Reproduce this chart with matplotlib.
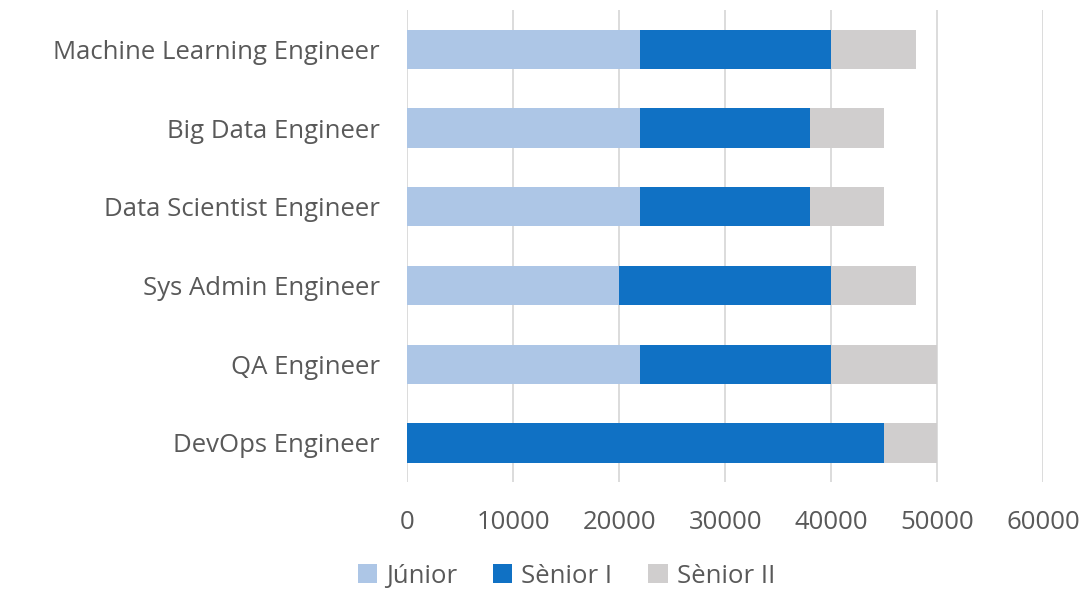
import matplotlib
matplotlib.use('Agg')
import matplotlib.pyplot as plt
import numpy as np

plt.rcParams['font.family'] = ['Open Sans', 'DejaVu Sans']

roles = ['Machine Learning Engineer', 'Big Data Engineer', 'Data Scientist Engineer',
         'Sys Admin Engineer', 'QA Engineer', 'DevOps Engineer']
junior = [22000, 22000, 22000, 20000, 22000, 0]
senior1 = [18000, 16000, 16000, 20000, 18000, 45000]
senior2 = [8000, 7000, 7000, 8000, 10000, 5000]
series_names = ['Júnior', 'Sènior I', 'Sènior II']
colors = ['#adc6e6', '#1071c4', '#d0cece']
xticks = [0, 10000, 20000, 30000, 40000, 50000, 60000]

TEXT = '#595959'
FS = 18.5

fig = plt.figure(figsize=(10.89, 5.91), dpi=100)
ax = fig.add_axes([0.374, 0.184, 0.584, 0.799])

y = np.arange(len(roles))[::-1]
left = np.zeros(len(roles))
for vals, name, c in zip([junior, senior1, senior2], series_names, colors):
    ax.barh(y, vals, left=left, height=0.5, color=c, label=name, zorder=3)
    left += np.array(vals)

ax.set_xlim(0, 60000)
ax.set_ylim(-0.5, len(roles) - 0.5)
ax.set_yticks(y)
ax.set_yticklabels(roles, fontsize=FS, color=TEXT)
ax.set_xticks(xticks)
ax.set_xticklabels([str(v) for v in xticks], fontsize=FS, color=TEXT)
ax.tick_params(axis='both', length=0)
ax.tick_params(axis='y', pad=20)
ax.tick_params(axis='x', pad=20)
ax.grid(axis='x', color='#d9d9d9', linewidth=1.3, zorder=0)
for s in ax.spines.values():
    s.set_visible(False)

fig.legend(loc='lower center', bbox_to_anchor=(0.52, -0.035),
           ncol=3, frameon=False, fontsize=FS, handlelength=0.75, handleheight=0.75,
           handletextpad=0.35, columnspacing=1.4, labelcolor=TEXT)

fig.savefig('out.png', dpi=100)
